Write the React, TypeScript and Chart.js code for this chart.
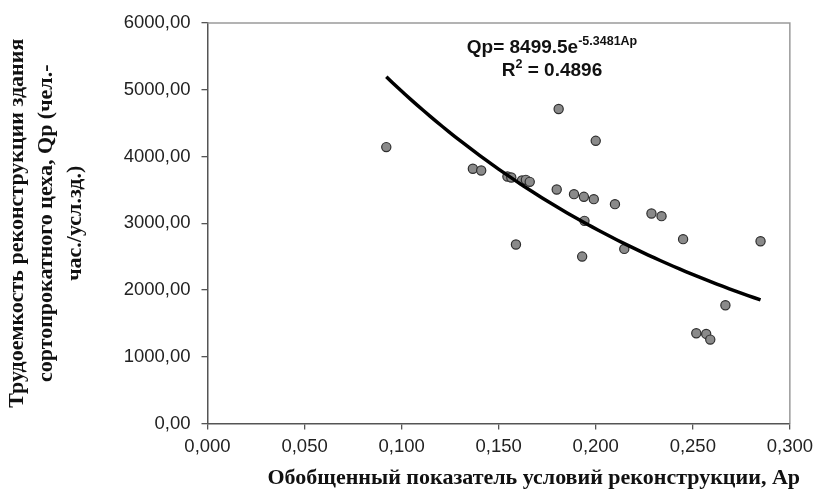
import { useEffect, useRef } from 'react';
import { Chart, registerables } from 'chart.js';

Chart.register(...registerables);

// Scatter data: generalized reconstruction-condition index (Ap) and labour intensity (Qp)
const apValues = [
  0.0921, 0.1367, 0.141, 0.1545, 0.1565, 0.162, 0.164, 0.166, 0.1809, 0.1799,
  0.1888, 0.1939, 0.199, 0.2099, 0.2287, 0.2339, 0.1942, 0.2147, 0.193, 0.1589,
  0.2, 0.245, 0.2849, 0.2668, 0.2518, 0.2569, 0.259,
];
const qpValues = [
  4141, 3816, 3790, 3700, 3685, 3640, 3650, 3620, 4711, 3505,
  3436, 3396, 3361, 3286, 3146, 3106, 3036, 2616, 2501, 2681,
  4235, 2762, 2731, 1772, 1352, 1342, 1257,
];

// Exponential trendline as printed on the chart: Qp = A * e^(B*Ap)
const trendCoefA = 8499.5;
const trendCoefB = -5.3481;
const trendSteps = 60;

const xTickValues = [0, 0.05, 0.1, 0.15, 0.2, 0.25, 0.3];
const yTickValues = [0, 1000, 2000, 3000, 4000, 5000, 6000];

const xAxisTitle = 'Обобщенный показатель условий реконструкции, Ap';
const yAxisTitleLines = [
  'Трудоемкость реконструкции здания',
  'сортопрокатного цеха, Qp (чел.-',
  'час./усл.зд.)',
];
const equationBase = 'Qp= 8499.5e';
const equationExponent = '-5.3481Ap';
const rSquaredBase = 'R';
const rSquaredSup = '2';
const rSquaredRest = ' = 0.4896';

const SANS = '"Liberation Sans", Arial, sans-serif';
const SERIF = '"Liberation Serif", "Times New Roman", serif';

export default function App() {
  const canvasRef = useRef<HTMLCanvasElement | null>(null);

  useEffect(() => {
    document.body.style.margin = '0';
    const canvas = canvasRef.current;
    if (!canvas) return;

    const minAp = Math.min(...apValues);
    const maxAp = Math.max(...apValues);
    const trendPoints: { x: number; y: number }[] = [];
    for (let i = 0; i <= trendSteps; i++) {
      const x = minAp + ((maxAp - minAp) * i) / trendSteps;
      trendPoints.push({ x, y: trendCoefA * Math.exp(trendCoefB * x) });
    }
    const scatterPoints = apValues.map((x, i) => ({ x, y: qpValues[i] }));

    const decorPlugin = {
      id: 'decor',
      afterDraw(chart: any) {
        const { ctx, chartArea } = chart;
        const { left, right, top, bottom } = chartArea;
        ctx.save();
        // top & right frame
        ctx.strokeStyle = '#9a9a9a';
        ctx.lineWidth = 1.5;
        ctx.beginPath();
        ctx.moveTo(left, top);
        ctx.lineTo(right, top);
        ctx.lineTo(right, bottom);
        ctx.stroke();

        // equation
        ctx.fillStyle = '#111';
        ctx.textBaseline = 'alphabetic';
        ctx.textAlign = 'left';
        const bigFont = `bold 19px ${SANS}`;
        const supFont = `bold 12.5px ${SANS}`;
        ctx.font = bigFont;
        const w1 = ctx.measureText(equationBase).width;
        ctx.font = supFont;
        const w2 = ctx.measureText(equationExponent).width;
        const cx = 552;
        let x0 = cx - (w1 + w2) / 2;
        ctx.font = bigFont;
        ctx.fillText(equationBase, x0, 53);
        ctx.font = supFont;
        ctx.fillText(equationExponent, x0 + w1, 45);

        ctx.font = bigFont;
        const r1 = ctx.measureText(rSquaredBase).width;
        const r3 = ctx.measureText(rSquaredRest).width;
        ctx.font = supFont;
        const r2 = ctx.measureText(rSquaredSup).width;
        x0 = cx - (r1 + r2 + r3) / 2;
        ctx.font = bigFont;
        ctx.fillText(rSquaredBase, x0, 76);
        ctx.font = supFont;
        ctx.fillText(rSquaredSup, x0 + r1, 68);
        ctx.font = bigFont;
        ctx.fillText(rSquaredRest, x0 + r1 + r2, 76);

        // x axis title
        ctx.font = `bold 22px ${SERIF}`;
        ctx.textAlign = 'right';
        ctx.textBaseline = 'middle';
        ctx.fillText(xAxisTitle, 800, 478);

        // y axis title
        ctx.textAlign = 'center';
        ctx.translate(0, (top + bottom) / 2);
        ctx.rotate(-Math.PI / 2);
        const lineXs = [17, 46, 75];
        yAxisTitleLines.forEach((line, i) => {
          ctx.fillText(line, 0, lineXs[i]);
        });
        ctx.restore();
      },
    };

    const chart = new Chart(canvas, {
      type: 'scatter',
      data: {
        datasets: [
          {
            type: 'line',
            data: trendPoints,
            borderColor: '#000',
            borderWidth: 3.5,
            pointRadius: 0,
            fill: false,
            tension: 0,
            order: 0,
          } as any,
          {
            data: scatterPoints,
            backgroundColor: '#8a8a8a',
            borderColor: '#2e2e2e',
            borderWidth: 1.2,
            pointRadius: 4.6,
            order: 1,
          },
        ],
      },
      options: {
        animation: false,
        responsive: false,
        events: [],
        layout: { padding: { top: 23, right: 26, left: 0, bottom: 0 } },
        plugins: {
          legend: { display: false },
          tooltip: { enabled: false },
        },
        scales: {
          x: {
            type: 'linear',
            min: 0,
            max: 0.3,
            afterBuildTicks: (axis: any) => {
              axis.ticks = xTickValues.map((v) => ({ value: v }));
            },
            afterFit: (axis: any) => {
              axis.height = 75.5;
            },
            ticks: {
              callback: (v: any) => Number(v).toFixed(3).replace('.', ','),
              font: { family: SANS, size: 18.5 },
              color: '#222',
              padding: 6,
              maxRotation: 0,
            },
            grid: {
              drawOnChartArea: false,
              drawTicks: true,
              tickLength: 6,
              color: '#555',
              lineWidth: 1.3,
            },
            border: { display: true, color: '#555', width: 1.5 },
          },
          y: {
            type: 'linear',
            min: 0,
            max: 6000,
            afterBuildTicks: (axis: any) => {
              axis.ticks = yTickValues.map((v) => ({ value: v }));
            },
            afterFit: (axis: any) => {
              axis.width = 207.5;
            },
            ticks: {
              callback: (v: any) => Number(v).toFixed(2).replace('.', ','),
              font: { family: SANS, size: 18.5 },
              color: '#222',
              padding: 11,
            },
            grid: {
              drawOnChartArea: false,
              drawTicks: true,
              tickLength: 6,
              color: '#555',
              lineWidth: 1.3,
            },
            border: { display: true, color: '#555', width: 1.5 },
          },
        },
      },
      plugins: [decorPlugin],
    });

    return () => chart.destroy();
  }, []);

  return (
    <div style={{ position: 'absolute', left: 0, top: 0, width: 819, height: 499, background: '#fff' }}>
      <canvas ref={canvasRef} width={819} height={499} style={{ width: 819, height: 499 }} />
    </div>
  );
}
